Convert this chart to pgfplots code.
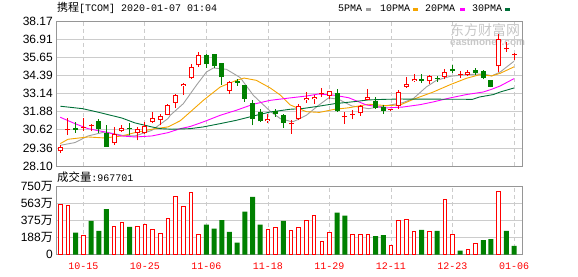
\documentclass[border=0pt]{standalone}
\usepackage{pgfplots}
\pgfplotsset{compat=1.18}
\usepackage{pgfplotstable}
\usepackage{fontspec}
\setmainfont{Liberation Sans}
\newfontfamily\cjk{Noto Sans CJK SC}
\newfontfamily\mono{Liberation Mono}
\definecolor{cR}{RGB}{255,0,0}
\definecolor{cG}{RGB}{0,128,0}
\definecolor{maA}{RGB}{160,160,160}
\definecolor{maB}{RGB}{245,165,0}
\definecolor{maC}{RGB}{255,0,255}
\definecolor{maD}{RGB}{0,112,56}
\definecolor{gridc}{RGB}{204,204,204}
\definecolor{framec}{RGB}{150,150,150}

% candles: x open high low close
\pgfplotstableread{
x o h l c
0 29.12 29.54 29.03 29.43
1 30.60 31.44 30.28 30.62
3 30.75 31.44 30.56 30.84
4 30.85 31.03 30.52 30.87
7 29.68 30.79 29.59 30.33
8 30.52 30.93 30.47 30.75
10 30.42 30.84 29.89 30.66
11 30.42 31.17 30.35 30.86
12 31.19 31.86 31.07 31.42
13 31.30 31.74 30.93 31.56
14 31.68 32.44 31.63 32.33
15 32.51 33.14 32.14 33.02
16 33.65 33.90 33.07 33.81
17 34.20 35.22 34.18 34.97
18 35.11 36.04 34.99 35.80
22 33.35 34.04 33.14 33.93
27 31.21 31.74 31.12 31.40
30 31.00 31.28 30.35 31.05
31 31.40 32.44 31.28 32.28
32 32.67 33.25 32.51 32.86
33 32.74 33.02 32.44 32.90
34 33.14 33.53 32.90 33.17
35 32.97 33.30 32.74 33.30
37 31.48 31.86 31.05 31.52
38 31.68 31.98 31.35 31.72
39 31.77 32.33 31.58 32.26
40 32.72 33.44 32.67 32.90
43 31.97 32.10 31.90 32.00
44 32.28 33.37 32.09 33.25
45 33.60 34.30 33.53 33.83
46 34.02 34.48 33.95 34.18
48 33.99 34.41 33.83 34.37
50 34.32 34.83 34.13 34.64
52 34.45 34.69 34.23 34.47
53 34.46 34.76 34.37 34.64
57 35.04 37.31 34.64 36.96
58 36.21 36.73 36.04 36.23
59 35.79 35.99 35.46 35.81
}\redK
\pgfplotstableread{
x o h l c
2 30.75 31.17 30.42 30.61
5 31.21 31.35 30.42 30.66
6 30.42 30.93 29.43 29.43
9 30.67 31.07 30.24 30.65
19 35.85 35.92 34.95 35.18
20 35.87 35.90 34.95 35.04
21 35.27 35.27 33.76 34.27
23 34.04 34.18 33.67 33.86
24 33.72 33.72 32.56 32.79
25 32.51 32.67 30.93 31.40
26 31.86 32.09 31.17 31.21
28 31.91 32.05 31.54 31.70
29 31.68 31.74 30.75 31.12
36 33.18 33.44 31.86 31.91
41 32.60 32.90 32.05 32.14
42 32.23 32.33 31.74 31.95
47 34.18 34.53 33.90 33.99
49 34.18 34.34 33.95 34.16
51 34.88 35.11 34.60 34.69
54 34.76 34.92 34.46 34.57
55 34.69 34.76 34.13 34.23
56 34.06 34.08 33.58 33.62
}\greenK
% volume in 10^4 shares
\pgfplotstableread{
x v
0 556
1 545
3 216
7 315
8 355
10 315
11 337
12 278
13 238
14 399
15 644
16 534
17 684
18 227
27 278
28 300
30 271
31 300
32 380
33 435
34 150
35 245
38 227
39 227
40 227
43 106
44 380
45 388
46 260
48 260
50 607
51 227
53 62
54 128
57 695
}\redV
\pgfplotstableread{
x v
2 241
4 370
5 260
6 501
9 304
19 329
20 285
21 380
22 249
23 132
24 472
25 633
26 329
29 370
36 461
37 428
41 205
42 216
47 271
49 260
52 44
55 161
56 172
58 260
59 97
}\greenV

\begin{document}
\begin{tikzpicture}
\path[use as bounding box] (0pt,0pt) rectangle (578pt,276pt);

% watermark
\node[anchor=west, inner sep=0pt, text=black!22] at (450pt,245.5pt) {\cjk\fontsize{14}{14}\selectfont 东方财富网};
\node[anchor=west, inner sep=0pt, text=black!22] at (450pt,233pt) {\bfseries\fontsize{10}{10}\selectfont eastmoney.com};

% title and legend
\node[anchor=west, inner sep=0pt] at (57pt,268pt) {{\cjk\fontsize{11}{11}\selectfont 携程}{\mono\fontsize{10}{10}\selectfont [TCOM] 2020-01-07 01:04}};
\node[anchor=west, inner sep=0pt] at (338pt,268pt) {\mono\fontsize{10}{10}\selectfont 5PMA};
\fill[maA] (366pt,265pt) rectangle (371pt,268pt);
\node[anchor=west, inner sep=0pt] at (380pt,268pt) {\mono\fontsize{10}{10}\selectfont 10PMA};
\fill[maB] (413pt,265pt) rectangle (418pt,268pt);
\node[anchor=west, inner sep=0pt] at (425pt,268pt) {\mono\fontsize{10}{10}\selectfont 20PMA};
\fill[maC] (460pt,265pt) rectangle (465pt,268pt);
\node[anchor=west, inner sep=0pt] at (472pt,268pt) {\mono\fontsize{10}{10}\selectfont 30PMA};
\fill[maD] (505pt,265pt) rectangle (510pt,268pt);

\node[anchor=west, inner sep=0pt] at (57pt,99pt) {{\cjk\fontsize{11.4}{11.4}\selectfont 成交量}{\mono\fontsize{10}{10}\selectfont :967701}};

\pgfplotsset{
  kbase/.style={
    scale only axis, width=466pt, anchor=south west,
    xmin=-0.56, xmax=60.04,
    xtick={3,11,19,27,35,43,51,59},
    major tick length=0pt,
    xmajorgrids, ymajorgrids,
    x grid style={gridc, dash pattern=on 4pt off 3pt, line width=0.8pt},
    y grid style={gridc, line width=0.8pt},
    axis line style={framec, line width=0.9pt},
    yticklabel style={anchor=east, inner sep=0pt, xshift=-3pt, font=\fontsize{12}{12}\selectfont, text=black},
  }
}

% price panel
\begin{axis}[kbase, at={(56pt,110pt)}, height=144.7pt,
  ymin=28.10, ymax=38.17,
  ytick={28.10,29.35875,30.6175,31.87625,33.135,34.39375,35.6525,36.91125,38.17},
  yticklabels={28.10,29.36,30.62,31.88,33.14,34.39,35.65,36.91,38.17},
  xticklabels={,,,,,,,},
]
% moving averages
\addplot[maA, line width=0.9pt] coordinates {(0,29.54)(1.9,29.73)(3.6,30.19)(5.8,30.47)(8,30.24)(9.7,30.19)(11.9,30.58)(14,31.40)(14.3,31.63)(16,32.44)(17.7,33.72)(19,34.64)(19.9,34.92)(21.6,34.83)(23.4,34.25)(25.1,33.02)(27.3,31.91)(28.6,31.40)(29.9,31.21)(30.4,31.21)(32,31.63)(33.6,32.33)(34.9,32.84)(36.2,32.74)(37.9,32.28)(40.1,32.09)(42.2,32.28)(44.5,32.50)(45.9,32.79)(47.6,33.60)(48.9,34.06)(50.7,34.34)(52.8,34.46)(55,34.51)(56.1,34.37)(57.2,34.64)(59,35.39)};
\addplot[maB, line width=0.9pt] coordinates {(0,29.66)(1,29.96)(3.6,30.12)(5.8,30.05)(8,30.19)(9.7,30.42)(11.9,30.66)(14,30.82)(15.6,31.25)(16.9,31.86)(18.6,32.67)(20.8,33.60)(22.9,34.06)(23.9,34.22)(25.5,34.06)(27.3,33.53)(28.6,33.04)(29.9,32.35)(32,31.88)(33.7,31.83)(35.7,32.05)(37.5,32.15)(40.1,32.40)(42.4,32.30)(44.2,32.35)(45.9,32.74)(48.5,33.25)(50.7,33.76)(52.8,34.20)(54.5,34.45)(56.1,34.37)(57.2,34.55)(59,35.00)};
\addplot[maC, line width=0.9pt] coordinates {(0,31.49)(1.9,31.05)(3.6,30.70)(5.8,30.47)(8,30.19)(9.7,30.12)(11.9,30.19)(14,30.42)(15.6,30.70)(16.9,30.85)(18.6,31.17)(20.8,31.63)(22.9,31.98)(25.1,32.40)(27.3,32.67)(29.9,32.84)(32,32.97)(33.6,33.11)(35.7,33.02)(37.5,32.85)(39.8,32.35)(42.2,32.14)(44.5,32.20)(46.8,32.37)(48.5,32.56)(50.7,32.84)(52.8,33.07)(55,33.25)(56.1,33.44)(57.2,33.67)(59,34.18)};
\addplot[maD, line width=0.9pt] coordinates {(0,32.26)(2.9,32.09)(4.8,31.86)(8,31.44)(9.7,31.10)(11.9,30.82)(13,30.70)(14.5,30.66)(16.9,30.70)(18.6,30.82)(20.8,31.05)(22.9,31.28)(25.1,31.58)(27.3,31.86)(29.9,32.05)(31.4,32.09)(33.6,32.26)(35.7,32.44)(37.9,32.56)(40.1,32.70)(42.2,32.74)(44.2,32.76)(53.6,32.74)(54.5,32.90)(56.3,33.07)(57.2,33.25)(59,33.53)};
% wicks
\addplot[draw=none, forget plot, error bars/.cd, y dir=plus, y explicit, error mark=none,
  error bar style={draw=cR, line width=1pt}]
  table[x=x, y=l, y error expr={\thisrow{h}-\thisrow{l}}] {\redK};
\addplot[draw=none, forget plot, error bars/.cd, y dir=plus, y explicit, error mark=none,
  error bar style={draw=cG, line width=1pt}]
  table[x=x, y=l, y error expr={\thisrow{h}-\thisrow{l}}] {\greenK};
% bodies
\addplot[draw=none, forget plot, error bars/.cd, y dir=plus, y explicit, error mark=none,
  error bar style={draw=cR, line width=5pt}]
  table[x=x, y=o, y error expr={max(\thisrow{c}-\thisrow{o},0.07)}] {\redK};
\addplot[draw=none, forget plot, error bars/.cd, y dir=plus, y explicit, error mark=none,
  error bar style={draw=white, line width=3pt}]
  table[x=x, y expr={\thisrow{o}+0.07}, y error expr={max(\thisrow{c}-\thisrow{o}-0.14,0)}] {\redK};
\addplot[draw=none, forget plot, error bars/.cd, y dir=plus, y explicit, error mark=none,
  error bar style={draw=cG, line width=5pt}]
  table[x=x, y=c, y error expr={max(\thisrow{o}-\thisrow{c},0.07)}] {\greenK};
\end{axis}

% volume panel
\begin{axis}[kbase, at={(56pt,21.3pt)}, height=68.4pt,
  ymin=0, ymax=750,
  ytick={0,187.5,375,562.5,750},
  yticklabels={0,188{\cjk 万},375{\cjk 万},563{\cjk 万},750{\cjk 万}},
  xticklabels={10-15,10-25,11-06,11-18,11-29,12-11,12-23,01-06},
  xticklabel style={anchor=north, inner sep=0pt, yshift=-7.5pt, font=\mono\fontsize{10}{10}\selectfont, text=cR},
]
\addplot[ybar, bar width=3.6pt, bar shift=0pt, draw=cR, fill=white, line width=0.9pt] table[x=x, y=v] {\redV};
\addplot[ybar, bar width=5pt, bar shift=0pt, draw=none, fill=cG] table[x=x, y=v] {\greenV};
\end{axis}
\end{tikzpicture}
\end{document}
